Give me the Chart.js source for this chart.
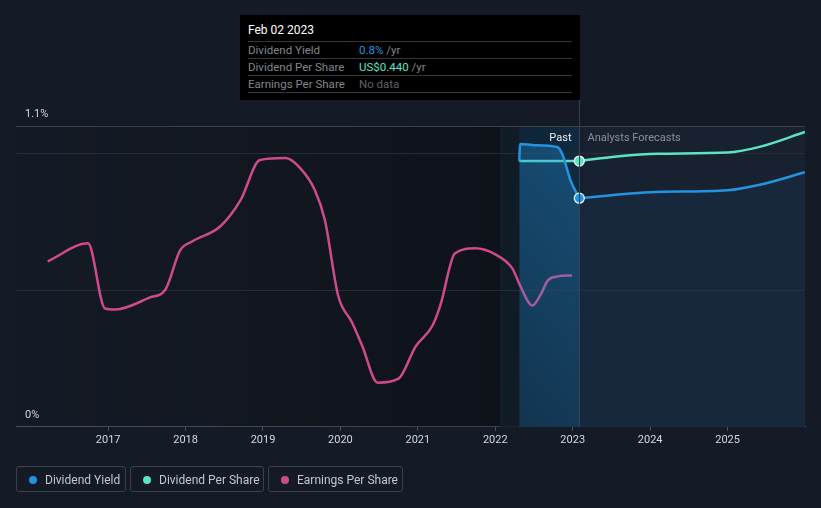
<!DOCTYPE html>
<html>
<head>
<meta charset="utf-8">
<script src="https://cdn.jsdelivr.net/npm/chart.js@4.4.0/dist/chart.umd.min.js"></script>
<style>
  body { margin: 0; background: #151b26; font-family: Roboto, "Noto Sans", sans-serif; }
  #wrap { position: relative; width: 821px; height: 508px; overflow: hidden; }
  #chart { position: absolute; left: 0; top: 0; }
  .tip { position: absolute; left: 240px; top: 15px; width: 340px; height: 85px; background: #000; }
  .tip .title { position: absolute; left: 8px; top: 8px; color: #fff; font-size: 12px; }
  .tip .row { position: absolute; left: 8px; width: 324px; height: 17px; border-top: 1px solid #33373d; font-size: 11.5px; line-height: 16px; color: #80858c; }
  .tip .row span { position: absolute; left: 111px; }
  .tip .last { position: absolute; left: 8px; top: 77px; width: 324px; border-top: 1px solid #33373d; }
  .leg { position: absolute; top: 466px; height: 26px; border: 1px solid #3b424d; border-radius: 3px; color: #c3c7cd; font-size: 12px; line-height: 26px; box-sizing: border-box; }
  .leg i { position: absolute; left: 12px; top: 9px; width: 8px; height: 8px; border-radius: 50%; }
  .leg b { position: absolute; left: 28px; font-weight: normal; white-space: nowrap; }
</style>
</head>
<body>
<div id="wrap">
  <canvas id="chart" width="821" height="508"></canvas>
  <div class="tip">
    <div class="title">Feb 02 2023</div>
    <div class="row" style="top:26px">Dividend Yield<span><em style="font-style:normal;color:#2394df">0.8%</em> /yr</span></div>
    <div class="row" style="top:43px">Dividend Per Share<span><em style="font-style:normal;color:#5ee2c6">US$0.440</em> /yr</span></div>
    <div class="row" style="top:60px">Earnings Per Share<span style="color:#5b6068">No data</span></div>
    <div class="last"></div>
  </div>
  <div class="leg" style="left:16px;width:110px"><i style="background:#2394df"></i><b>Dividend Yield</b></div>
  <div class="leg" style="left:130px;width:134px"><i style="background:#5ee2c6"></i><b>Dividend Per Share</b></div>
  <div class="leg" style="left:268px;width:135px"><i style="background:#cf4a8b"></i><b>Earnings Per Share</b></div>
</div>
<script>
// time axis (decimal years)
const yearTicks = [2017, 2018, 2019, 2020, 2021, 2022, 2023, 2024, 2025];
const pastStart = 2022.065;
const bandStart = 2022.31;
const nowYear = 2023.085;

// Dividend yield (%)
const yieldPastX = [2022.31, 2022.32, 2022.5, 2022.8, 2022.87, 2022.97, 2023.085];
const yieldPastY = [0.972, 1.034, 1.030, 1.023, 0.994, 0.902, 0.836];
const yieldFcX = [2023.085, 2023.5, 2024.0, 2025.0, 2025.4, 2026.0];
const yieldFcY = [0.836, 0.847, 0.858, 0.865, 0.884, 0.931];

// Dividend per share (US$)
const dpsPastX = [2022.31, 2022.7, 2023.085];
const dpsPastY = [0.44, 0.44, 0.44];
const dpsFcX = [2023.085, 2023.6, 2024.1, 2025.0, 2025.4, 2026.0];
const dpsFcY = [0.44, 0.448, 0.452, 0.454, 0.463, 0.488];

// Earnings per share (US$)
const epsX = [2016.22, 2016.74, 2016.96, 2017.09, 2017.54, 2017.74, 2017.93, 2018.09, 2018.45, 2018.71,
  2018.96, 2019.29, 2019.48, 2019.67, 2019.80, 2019.97, 2020.15, 2020.28, 2020.48, 2020.75,
  2020.97, 2021.19, 2021.29, 2021.48, 2021.74, 2022.00, 2022.22, 2022.32, 2022.48, 2022.58,
  2022.68, 2022.81, 2022.99];
const epsY = [1.65, 1.83, 1.18, 1.17, 1.29, 1.37, 1.76, 1.85, 2.00, 2.26,
  2.66, 2.68, 2.58, 2.36, 2.06, 1.31, 1.04, 0.81, 0.44, 0.48,
  0.80, 1.01, 1.21, 1.73, 1.78, 1.72, 1.58, 1.41, 1.21, 1.31,
  1.46, 1.50, 1.51];

const yieldGrid = [0.5, 1.0];
const yieldTop = 1.1;

const pts = (xs, ys) => xs.map((x, i) => ({ x: x, y: ys[i] }));
const firstDot = (n) => Array.from({ length: n }, (_, i) => (i === 0 ? 5 : 0));

const BLUE = "#2394df";
const TEAL = "#5ee2c6";
const PINK = "#cf4a8b";

function pastFill(c) {
  const a = c.chart.chartArea;
  if (!a) return "rgba(35,148,223,0.25)";
  const g = c.chart.ctx.createLinearGradient(0, a.top, 0, a.bottom);
  g.addColorStop(0, "rgba(35,148,223,0.34)");
  g.addColorStop(1, "rgba(35,148,223,0.14)");
  return g;
}

const backdrop = {
  id: "backdrop",
  beforeDatasetsDraw(chart) {
    const { ctx, chartArea: a, scales } = chart;
    const px = (v) => scales.x.getPixelForValue(v);
    ctx.save();
    const g = ctx.createLinearGradient(a.left, 0, px(pastStart), 0);
    g.addColorStop(0, "rgba(0,0,0,0)");
    g.addColorStop(1, "rgba(0,0,0,0.3)");
    ctx.fillStyle = g;
    ctx.fillRect(a.left, a.top, px(pastStart) - a.left, a.bottom - a.top);
    ctx.fillStyle = "#111b26";
    ctx.fillRect(px(pastStart), a.top, px(bandStart) - px(pastStart), a.bottom - a.top);
    const bg = ctx.createLinearGradient(px(bandStart), 0, px(nowYear), 0);
    bg.addColorStop(0, "#0f2437");
    bg.addColorStop(1, "#112a40");
    ctx.fillStyle = bg;
    ctx.fillRect(px(bandStart), a.top, px(nowYear) - px(bandStart), a.bottom - a.top);
    ctx.fillStyle = "#172130";
    ctx.fillRect(px(nowYear), a.top, a.right - px(nowYear), a.bottom - a.top);
    // gridlines
    ctx.lineWidth = 1;
    ctx.strokeStyle = "#252c37";
    yieldGrid.forEach((v) => {
      const y = Math.round(scales.y.getPixelForValue(v)) + 0.5;
      ctx.beginPath(); ctx.moveTo(a.left, y); ctx.lineTo(a.right, y); ctx.stroke();
    });
    ctx.strokeStyle = "#3c424c";
    const yt = Math.round(scales.y.getPixelForValue(yieldTop)) + 0.5;
    ctx.beginPath(); ctx.moveTo(a.left, yt); ctx.lineTo(a.right, yt); ctx.stroke();
    ctx.restore();
  },
  afterDraw(chart) {
    const { ctx, chartArea: a, scales } = chart;
    const nx = Math.round(scales.x.getPixelForValue(nowYear)) + 0.5;
    ctx.save();
    ctx.strokeStyle = "#39414d";
    ctx.lineWidth = 1;
    ctx.beginPath(); ctx.moveTo(nx, 100); ctx.lineTo(nx, a.bottom); ctx.stroke();
    ctx.font = "11px Roboto, sans-serif";
    ctx.textBaseline = "middle";
    ctx.fillStyle = "#d2d5da";
    ctx.fillText("1.1%", a.left + 9, scales.y.getPixelForValue(yieldTop) - 12);
    ctx.fillText("0%", a.left + 9, a.bottom - 12);
    ctx.textAlign = "right";
    ctx.fillStyle = "#eceef0";
    ctx.fillText("Past", nx - 8, 138);
    ctx.textAlign = "left";
    ctx.fillStyle = "#8a9099";
    ctx.fillText("Analysts Forecasts", nx + 8, 138);
    ctx.restore();
  }
};

new Chart(document.getElementById("chart"), {
  type: "line",
  data: {
    datasets: [
      {
        data: pts(yieldFcX, yieldFcY), yAxisID: "y", borderColor: BLUE, borderWidth: 2.5,
        fill: "origin", backgroundColor: "rgba(35,148,223,0.07)",
        pointRadius: firstDot(yieldFcX.length), pointBackgroundColor: BLUE,
        pointBorderColor: "#fff", pointBorderWidth: 1.2
      },
      {
        data: pts(dpsFcX, dpsFcY), yAxisID: "y2", borderColor: TEAL, borderWidth: 2.5,
        pointRadius: firstDot(dpsFcX.length), pointBackgroundColor: TEAL,
        pointBorderColor: "#fff", pointBorderWidth: 1.2
      },
      {
        data: pts(yieldPastX, yieldPastY), yAxisID: "y", borderColor: BLUE, borderWidth: 2.5,
        fill: "origin", backgroundColor: pastFill, pointRadius: 0
      },
      {
        data: pts(dpsPastX, dpsPastY), yAxisID: "y2", borderColor: TEAL, borderWidth: 2.5, pointRadius: 0
      },
      {
        data: pts(epsX, epsY), yAxisID: "y3", borderColor: PINK, borderWidth: 2.5, pointRadius: 0
      }
    ]
  },
  options: {
    responsive: false,
    animation: false,
    cubicInterpolationMode: "monotone",
    layout: { padding: { top: 126, left: 16, right: 16, bottom: 58 } },
    plugins: {
      legend: { display: false },
      tooltip: { enabled: false }
    },
    scales: {
      x: {
        type: "linear", min: 2015.81, max: 2026.0,
        afterBuildTicks: (axis) => { axis.ticks = yearTicks.map((v) => ({ value: v })); },
        grid: { drawOnChartArea: false, drawTicks: true, tickLength: 4, color: "#4a505b" },
        border: { display: true, color: "#4a505b" },
        ticks: {
          color: "#d4d7dc", font: { size: 11, family: "Roboto" }, padding: 3,
          maxRotation: 0, autoSkip: false, callback: (v) => String(v)
        }
      },
      y: { min: 0, max: 1.1, display: false },
      y2: { min: 0, max: 0.498, display: false },
      y3: { min: 0, max: 3, display: false }
    }
  },
  plugins: [backdrop]
});
</script>
</body>
</html>
